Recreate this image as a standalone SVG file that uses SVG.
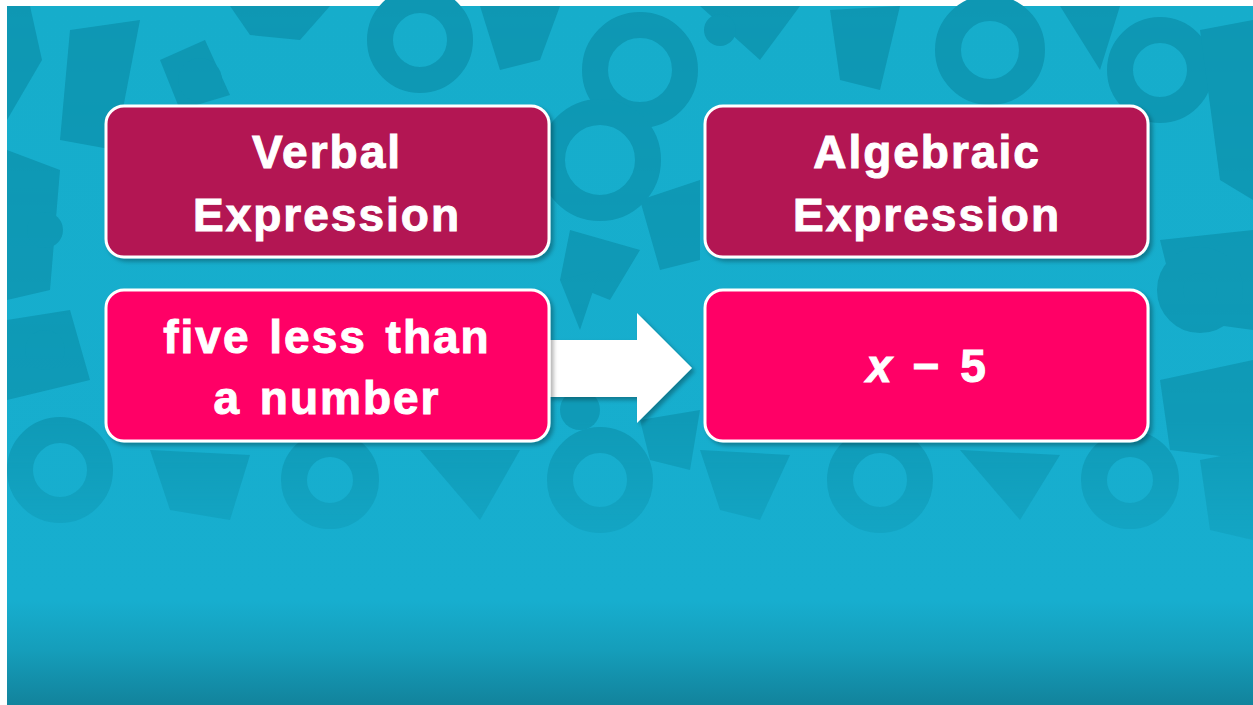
<svg xmlns="http://www.w3.org/2000/svg" width="1253" height="705" viewBox="0 0 1253 705">
  <defs>
    <linearGradient id="bg" x1="0" y1="0" x2="0" y2="1">
      <stop offset="0" stop-color="#16ADCB"/>
      <stop offset="0.85" stop-color="#17AECF"/>
      <stop offset="0.92" stop-color="#159EBB"/>
      <stop offset="1" stop-color="#12839C"/>
    </linearGradient>
    <linearGradient id="fade" x1="0" y1="0" x2="0" y2="1">
      <stop offset="0" stop-color="#fff"/>
      <stop offset="0.6" stop-color="#fff" stop-opacity="0.85"/>
      <stop offset="0.8" stop-color="#fff" stop-opacity="0.25"/>
      <stop offset="0.87" stop-color="#fff" stop-opacity="0"/>
    </linearGradient>
    <mask id="fm" maskUnits="userSpaceOnUse" x="0" y="0" width="1253" height="705">
      <rect x="0" y="0" width="1253" height="705" fill="url(#fade)"/>
    </mask>
    <filter id="sh" x="-5%" y="-5%" width="115%" height="120%">
      <feDropShadow dx="3" dy="3" stdDeviation="2" flood-color="#000000" flood-opacity="0.3"/>
    </filter>
    <style>
      .box { stroke: #ffffff; stroke-width: 3; filter: url(#sh); }
      .head { fill: #B31653; }
      .body { fill: #FF0066; }
      .t { font-family: "Liberation Sans", Arial, sans-serif; font-weight: bold; font-size: 46px; fill: #ffffff; stroke: #ffffff; stroke-width: 1; text-anchor: middle; letter-spacing: 2px; word-spacing: 4px; }
      .pd { fill: #0E97B3; }
      .pr { fill: none; stroke: #0E97B3; stroke-width: 26; }
    </style>
  </defs>
  <rect x="0" y="0" width="1253" height="705" fill="#ffffff"/>
  <rect x="7" y="6" width="1246" height="699" fill="url(#bg)"/>

  <g id="pattern" mask="url(#fm)">
    <polygon class="pd" points="7,6 30,6 42,60 7,120"/>
    <polygon class="pd" points="70,30 140,20 115,150 60,140"/>
    <polygon class="pd" points="160,60 205,40 230,95 180,110"/>
    <circle class="pd" cx="200" cy="80" r="22"/>
    <polygon class="pd" points="230,6 330,6 300,40 250,35"/>
    <circle class="pr" cx="420" cy="40" r="40"/>
    <polygon class="pd" points="480,6 560,6 540,60 500,70"/>
    <circle class="pr" cx="640" cy="70" r="45"/>
    <polygon class="pd" points="700,6 800,6 760,60"/>
    <circle class="pd" cx="720" cy="30" r="16"/>
    <polygon class="pd" points="830,10 900,6 880,90 840,80"/>
    <circle class="pr" cx="990" cy="50" r="42"/>
    <polygon class="pd" points="1060,6 1120,6 1100,70"/>
    <circle class="pr" cx="1160" cy="70" r="40"/>
    <polygon class="pd" points="1200,30 1253,20 1253,200 1220,180"/>
    <polygon class="pd" points="7,150 60,170 50,290 7,300"/>
    <circle class="pd" cx="45" cy="230" r="18"/>
    <circle class="pr" cx="600" cy="160" r="48"/>
    <polygon class="pd" points="570,230 640,250 610,300 560,280"/>
    <polygon class="pd" points="640,200 700,180 700,260 660,270"/>
    <polygon class="pd" points="1160,240 1253,230 1253,330 1180,320"/>
    <circle class="pr" cx="1200" cy="290" r="30"/>
    <polygon class="pd" points="7,320 70,310 90,380 7,400"/>
    <circle class="pd" cx="45" cy="350" r="20"/>
    <polygon class="pd" points="560,280 600,270 580,330"/>
    <circle class="pd" cx="580" cy="410" r="20"/>
    <polygon class="pd" points="640,420 700,410 690,470 650,460"/>
    <polygon class="pd" points="1160,380 1253,360 1253,460 1170,450"/>
    <circle class="pr" cx="60" cy="470" r="40"/>
    <polygon class="pd" points="150,450 250,455 230,520 170,510"/>
    <circle class="pr" cx="330" cy="480" r="36"/>
    <polygon class="pd" points="420,450 520,450 480,520"/>
    <circle class="pr" cx="600" cy="480" r="40"/>
    <polygon class="pd" points="700,450 790,455 760,520 720,510"/>
    <circle class="pr" cx="880" cy="480" r="40"/>
    <polygon class="pd" points="960,450 1060,455 1020,520"/>
    <circle class="pr" cx="1130" cy="480" r="36"/>
    <polygon class="pd" points="1200,460 1253,450 1253,540 1210,530"/>
  </g>

  <g id="connectors">
    <polygon points="548,340 637,340 637,313 692,368 637,423 637,397 548,397" fill="#ffffff" filter="url(#sh)"/>
  </g>

  <g id="verbal-header">
    <rect class="box head" x="106" y="106" width="443" height="151" rx="18"/>
    <text class="t" x="327" y="168">Verbal</text>
    <text class="t" x="327" y="231">Expression</text>
  </g>
  <g id="verbal-body">
    <rect class="box body" x="106" y="290" width="443" height="151" rx="18"/>
    <text class="t" x="327" y="353">five less than</text>
    <text class="t" x="327" y="414">a number</text>
  </g>
  <g id="algebraic-header">
    <rect class="box head" x="705" y="106" width="443" height="151" rx="18"/>
    <text class="t" x="927" y="168">Algebraic</text>
    <text class="t" x="927" y="231">Expression</text>
  </g>
  <g id="algebraic-body">
    <rect class="box body" x="705" y="290" width="443" height="151" rx="18"/>
    <text class="t" x="927" y="382"><tspan font-style="italic">x</tspan> − 5</text>
  </g>
</svg>
